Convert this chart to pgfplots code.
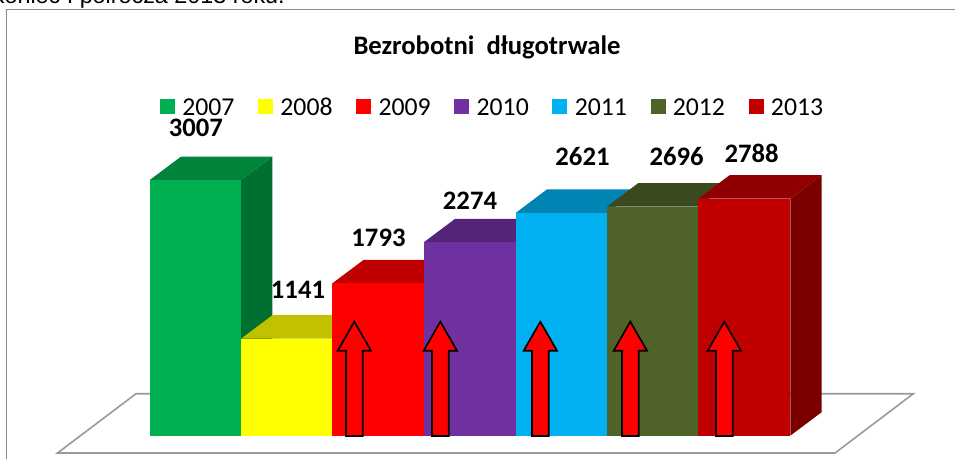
\documentclass[border=0pt]{standalone}
\usepackage{pgfplots}
\pgfplotsset{compat=1.18}
\usepackage{fontspec}
\setmainfont{Carlito}
\newfontfamily\arialf{Liberation Sans}
\definecolor{cA}{HTML}{00B050}\definecolor{cAt}{HTML}{00843C}\definecolor{cAs}{HTML}{007030}
\definecolor{cB}{HTML}{FFFF00}\definecolor{cBt}{HTML}{C1C100}\definecolor{cBs}{HTML}{8C8C00}
\definecolor{cC}{HTML}{FF0000}\definecolor{cCt}{HTML}{C00000}\definecolor{cCs}{HTML}{8C0000}
\definecolor{cD}{HTML}{7030A0}\definecolor{cDt}{HTML}{542478}\definecolor{cDs}{HTML}{3E1A58}
\definecolor{cE}{HTML}{00B0F0}\definecolor{cEt}{HTML}{0084B4}\definecolor{cEs}{HTML}{006084}
\definecolor{cF}{HTML}{4F6228}\definecolor{cFt}{HTML}{3B4A1E}\definecolor{cFs}{HTML}{2B3616}
\definecolor{cG}{HTML}{C00000}\definecolor{cGt}{HTML}{900000}\definecolor{cGs}{HTML}{7A0000}
\definecolor{gline}{HTML}{9A9A9A}
\begin{document}
\begin{tikzpicture}[x=1pt,y=1pt]
\path[use as bounding box] (0,0) rectangle (716.25pt,344.25pt);
\begin{axis}[
  at={(0,0)},anchor=south west,
  scale only axis,width=716.25pt,height=344.25pt,
  xmin=0,xmax=955,ymin=-274.12,ymax=5125.9,
  hide axis,clip=true,
  legend style={at={(axis cs:160,3873)},anchor=west,draw=none,fill=none,
    legend columns=7,font=\fontsize{19.3pt}{20pt}\selectfont,
    nodes={text height=13.5pt,text depth=0pt,inner ysep=0pt,inner xsep=3.5pt},
    /tikz/every even column/.append style={column sep=14.2pt},
    inner sep=0pt,outer sep=0pt},
  legend image code/.code={\path (0pt,0pt) -- (13.25pt,0pt);\fill[#1] (0pt,-5.6pt) rectangle (11.25pt,5.6pt);},
  every axis plot/.append style={line join=miter},
]
% frame
\addplot[gline!90!black,line width=1.3pt,forget plot] coordinates {(6.5,-274)(6.5,5014)(955,5014)};
% floor
\addplot[gline,line width=1.2pt,fill=white,forget plot] coordinates {(57.5,-204)(136,494)(913.3,494)(835,-204)} --cycle;
% 2007
\addplot[draw=none,fill=cAs,forget plot] coordinates {(241.1,0)(272.4,276.5)(272.4,3283.5)(241.1,3007)} --cycle;
\addplot[draw=none,fill=cAt,forget plot] coordinates {(149.7,3007)(181,3283.5)(272.4,3283.5)(241.1,3007)} --cycle;
\addplot[draw=none,fill=cA] coordinates {(149.7,0)(241.1,0)(241.1,3007)(149.7,3007)} --cycle;
% 2008
\addplot[draw=none,fill=cBt,forget plot] coordinates {(241.1,1141)(272.4,1417.5)(363.7,1417.5)(332.4,1141)} --cycle;
\addplot[draw=none,fill=cB] coordinates {(241.1,0)(332.4,0)(332.4,1141)(241.1,1141)} --cycle;
% 2009
\addplot[draw=none,fill=cCt,forget plot] coordinates {(332.4,1793)(363.7,2069.5)(455,2069.5)(423.7,1793)} --cycle;
\addplot[draw=none,fill=cC] coordinates {(332.4,0)(423.7,0)(423.7,1793)(332.4,1793)} --cycle;
% 2010
\addplot[draw=none,fill=cDt,forget plot] coordinates {(423.7,2274)(455,2550.5)(547,2550.5)(515.7,2274)} --cycle;
\addplot[draw=none,fill=cD] coordinates {(423.7,0)(515.7,0)(515.7,2274)(423.7,2274)} --cycle;
% 2011
\addplot[draw=none,fill=cEt,forget plot] coordinates {(515.7,2621)(547,2897.5)(638.3,2897.5)(607,2621)} --cycle;
\addplot[draw=none,fill=cE] coordinates {(515.7,0)(607,0)(607,2621)(515.7,2621)} --cycle;
% 2012
\addplot[draw=none,fill=cFt,forget plot] coordinates {(607,2696)(638.3,2972.5)(729.6,2972.5)(698.3,2696)} --cycle;
\addplot[draw=none,fill=cF] coordinates {(607,0)(698.3,0)(698.3,2696)(607,2696)} --cycle;
% 2013
\addplot[draw=none,fill=cGs,forget plot] coordinates {(790.3,0)(821.6,276.5)(821.6,3064.5)(790.3,2788)} --cycle;
\addplot[draw=none,fill=cGt,forget plot] coordinates {(698.3,2788)(729.6,3064.5)(821.6,3064.5)(790.3,2788)} --cycle;
\addplot[draw=none,fill=cG] coordinates {(698.3,0)(790.3,0)(790.3,2788)(698.3,2788)} --cycle;
% arrows
\addplot[black,fill=red,line width=1.25pt,forget plot] coordinates {(346,-4)(346,1000)(337.7,1000)(354.3,1341)(371,1000)(362.7,1000)(362.7,-4)} --cycle;
\addplot[black,fill=red,line width=1.25pt,forget plot] coordinates {(432,-4)(432,1000)(423.7,1000)(440.3,1341)(457,1000)(448.7,1000)(448.7,-4)} --cycle;
\addplot[black,fill=red,line width=1.25pt,forget plot] coordinates {(532,-4)(532,1000)(523.7,1000)(540.3,1341)(557,1000)(548.7,1000)(548.7,-4)} --cycle;
\addplot[black,fill=red,line width=1.25pt,forget plot] coordinates {(622,-4)(622,1000)(613.7,1000)(630.3,1341)(647,1000)(638.7,1000)(638.7,-4)} --cycle;
\addplot[black,fill=red,line width=1.25pt,forget plot] coordinates {(716,-4)(716,1000)(707.7,1000)(724.3,1341)(741,1000)(732.7,1000)(732.7,-4)} --cycle;
\legend{2007,2008,2009,2010,2011,2012,2013}
% labels
\node[font=\fontsize{20pt}{20pt}\selectfont\bfseries] at (axis cs:195.8,3620) {3007};
\node[font=\fontsize{20pt}{20pt}\selectfont\bfseries] at (axis cs:298,1718) {1141};
\node[font=\fontsize{20pt}{20pt}\selectfont\bfseries] at (axis cs:378.5,2332) {1793};
\node[font=\fontsize{20pt}{20pt}\selectfont\bfseries] at (axis cs:470,2761) {2274};
\node[font=\fontsize{20pt}{20pt}\selectfont\bfseries] at (axis cs:582.5,3282) {2621};
\node[font=\fontsize{20pt}{20pt}\selectfont\bfseries] at (axis cs:676.7,3279) {2696};
\node[font=\fontsize{20pt}{20pt}\selectfont\bfseries] at (axis cs:751.7,3326) {2788};
\node[font=\fontsize{20pt}{20pt}\selectfont\bfseries,inner sep=0pt] at (axis cs:487,4565) {Bezrobotni\ \ długotrwale};
\node[font=\arialf\fontsize{17.5pt}{20pt}\selectfont,anchor=base east,inner sep=0pt] at (axis cs:285,5090) {koniec I półrocza 2013 roku.};
\end{axis}
\end{tikzpicture}
\end{document}
